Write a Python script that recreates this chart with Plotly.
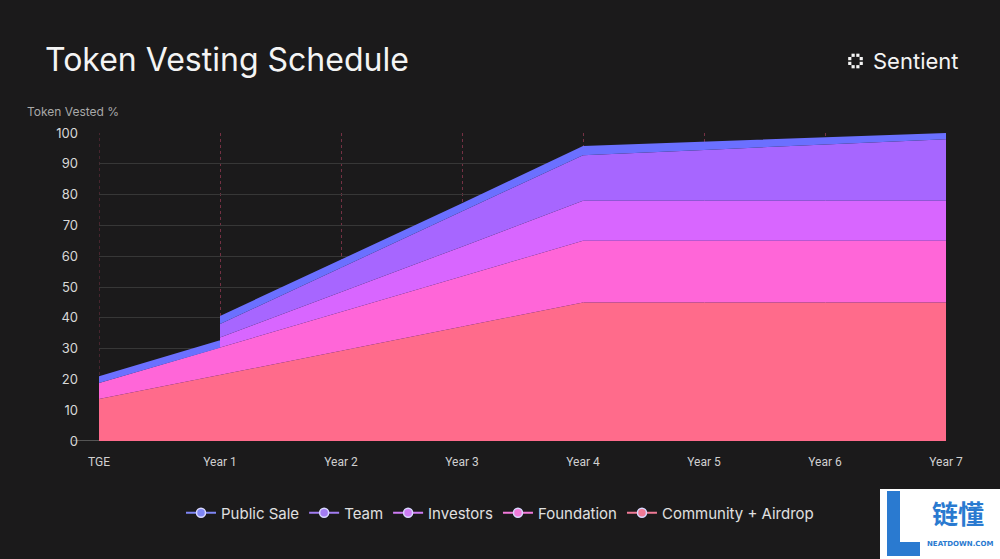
import math
import plotly.graph_objects as go

x_labels = ["TGE", "Year 1", "Year 2", "Year 3", "Year 4", "Year 5", "Year 6", "Year 7"]
x_pos = [0, 1, 1, 2, 3, 4, 5, 6, 7]  # Year 1 repeated: cliff unlock
community = [13.6, 21.4, 21.4, 29.2, 37.0, 45.0, 45.0, 45.0, 45.0]
foundation = [5.2, 8.9, 8.9, 12.6, 16.3, 20.0, 20.0, 20.0, 20.0]
investors = [0, 0, 3.3, 6.5, 9.8, 13.0, 13.0, 13.0, 13.0]
team = [0, 0, 4.4, 7.9, 11.3, 14.8, 16.5, 18.2, 20.0]
public_sale = [2.2, 2.4, 2.6, 2.7, 2.8, 3.0, 2.7, 2.3, 2.0]
y_ticks = [0, 10, 20, 30, 40, 50, 60, 70, 80, 90, 100]

series = [
    ("Community + Airdrop", community, "#FF6B8B", "#F07A96"),
    ("Foundation", foundation, "#FF66D8", "#F27ADB"),
    ("Investors", investors, "#D866FF", "#CF7CF5"),
    ("Team", team, "#A766FF", "#A27CF2"),
    ("Public Sale", public_sale, "#6B70FF", "#7F86F5"),
]

BG = "#1b1a1b"
PX0, PX1, PY0, PY1 = 99, 946, 441, 133


def px(xp):
    return (xp - PX0) / (PX1 - PX0)


def py(yp):
    return (PY0 - yp) / (PY0 - PY1)


fig = go.Figure()

cum = [0.0] * len(x_pos)
first = True
for name, vals, col, _ in series:
    cum = [c + v for c, v in zip(cum, vals)]
    fig.add_trace(go.Scatter(
        x=x_pos, y=cum, mode="lines", line=dict(width=0, color=col),
        fill="tozeroy" if first else "tonexty", fillcolor=col,
        showlegend=False, hoverinfo="skip", name=name))
    first = False

# legend entries (top of stack first)
for name, vals, col, mcol in reversed(series):
    fig.add_trace(go.Scatter(
        x=[None], y=[None], mode="lines+markers", name=name,
        line=dict(color=mcol, width=2),
        marker=dict(size=9, color=mcol, line=dict(color="#d8d8ff", width=1.5))))

shapes = [
    dict(type="line", xref="paper", yref="y", x0=px(73), x1=1, y0=0, y1=0,
         line=dict(color="#6a6a6a", width=1.5), layer="below"),
    dict(type="line", xref="x", yref="paper", x0=0, x1=0, y0=0, y1=1,
         line=dict(color="rgba(190,70,100,0.55)", width=1, dash="dot"), layer="below"),
    dict(type="rect", xref="paper", yref="paper",
         x0=px(880), x1=px(1000), y0=py(559), y1=py(489),
         fillcolor="#ffffff", line=dict(width=0), layer="above"),
    dict(type="path", xref="paper", yref="paper",
         path="M {0} {1} L {2} {1} L {2} {3} L {4} {3} L {4} {5} L {0} {5} Z".format(
             px(887), py(491), px(900), py(542), px(920), py(556)),
         fillcolor="#2a7ad0", line=dict(width=0), layer="above"),
]
# Sentient logo: ring of small dots
cx, cy = 855.5, 61
for k in range(8):
    a = math.pi / 8 + k * math.pi / 4
    dx, dy = 6.2 * math.cos(a), 6.2 * math.sin(a)
    shapes.append(dict(type="rect", xref="paper", yref="paper",
                       x0=px(cx + dx - 1.6), x1=px(cx + dx + 1.6),
                       y0=py(cy + dy + 1.6), y1=py(cy + dy - 1.6),
                       fillcolor="#f4f4f4", line=dict(width=0)))

fig.update_layout(
    width=1000, height=559,
    paper_bgcolor=BG, plot_bgcolor=BG,
    margin=dict(l=99, r=54, t=133, b=118),
    title=dict(text="Token Vesting Schedule", xref="container", yref="container",
               x=0.045, y=1 - 60 / 559, xanchor="left", yanchor="middle",
               font=dict(family="Inter", size=32, color="#f4f4f4")),
    xaxis=dict(range=[0, 7], tickmode="array", tickvals=list(range(8)), ticktext=x_labels,
               showgrid=True, gridcolor="rgba(190,70,100,0.55)", griddash="dot", gridwidth=1,
               zeroline=False, showline=False, ticks="",
               tickfont=dict(family="Roboto", size=12, color="#d0d0d0"),
               ticklabelstandoff=12, fixedrange=True),
    yaxis=dict(range=[0, 100], tickmode="array", tickvals=y_ticks,
               showgrid=True, gridcolor="#373737", gridwidth=1,
               zeroline=False, showline=False, ticks="",
               tickfont=dict(family="Inter", size=13, color="#d8d8d8"),
               ticklabelstandoff=20, fixedrange=True),
    legend=dict(orientation="h", xref="container", yref="container", traceorder="normal",
                x=0.5, y=1 - 513 / 559, xanchor="center", yanchor="middle",
                font=dict(family="Inter", size=15, color="#e0e0e0"),
                bgcolor="rgba(0,0,0,0)", itemwidth=30, tracegroupgap=0),
    showlegend=True,
    annotations=[
        dict(text="Token Vested %", xref="paper", yref="paper",
             x=px(25), y=py(111), xanchor="left", yanchor="middle",
             showarrow=False, font=dict(family="Inter", size=12, color="#a8a8a8")),
        dict(text="Sentient", xref="paper", yref="paper",
             x=px(961), y=py(61), xanchor="right", yanchor="middle",
             showarrow=False, font=dict(family="Inter", size=22, color="#f4f4f4")),
        dict(text="<b>链懂</b>", xref="paper", yref="paper",
             x=px(958), y=py(512), xanchor="center", yanchor="middle",
             showarrow=False, font=dict(family="Noto Sans CJK SC", size=26, color="#2a7ad0")),
        dict(text="<b>NEATDOWN.COM</b>", xref="paper", yref="paper",
             x=px(960), y=py(544), xanchor="center", yanchor="middle",
             showarrow=False, font=dict(family="DejaVu Sans", size=7, color="#2a7ad0")),
    ],
    shapes=shapes,
)

fig.write_html("out.html")
